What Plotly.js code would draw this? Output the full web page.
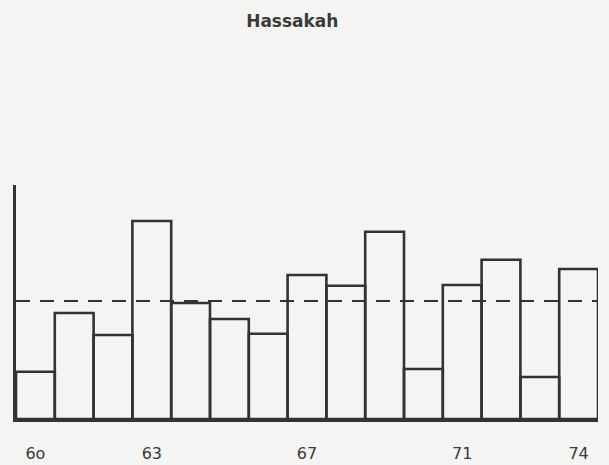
<!DOCTYPE html>
<html>
<head>
<meta charset="utf-8">
<script src="https://cdn.plot.ly/plotly-3.0.1.min.js"></script>
<style>html,body{margin:0;padding:0;background:#f4f4f2;}#chart{width:609px;height:465px;}</style>
</head>
<body>
<div id="chart"></div>
<script>
// Annual rainfall, Hassakah, 1960-1974 (arbitrary mm scale)
var years = [1960,1961,1962,1963,1964,1965,1966,1967,1968,1969,1970,1971,1972,1973,1974];
var rainfall = [118,265,210,495,290,250,213,360,333,468,125,335,398,105,375];
var meanRainfall = 295;
var tickYears = [1960,1963,1967,1971,1974];
var tickLabels = ['6o','63','67','71','74'];

var ink = '#333333';
var trace = {
  type: 'bar',
  x: years,
  y: rainfall,
  marker: {color: 'rgba(0,0,0,0)', line: {color: ink, width: 2.6}},
  hoverinfo: 'x+y'
};
var layout = {
  width: 609, height: 465,
  margin: {l: 16, r: 11, t: 185, b: 46},
  paper_bgcolor: '#f4f4f2',
  plot_bgcolor: '#f4f4f2',
  bargap: 0,
  showlegend: false,
  title: {text: 'Hassakah', x: 0.48, xanchor: 'center', y: 0.955, yanchor: 'middle',
          font: {family: 'DejaVu Sans', size: 17, color: '#3a3a3a', weight: 600}},
  xaxis: {
    range: [1959.5, 1974.5], showgrid: false, zeroline: false,
    showline: true, linecolor: ink, linewidth: 2.6,
    tickvals: tickYears, ticktext: tickLabels, ticks: '',
    ticklabelstandoff: 18,
    tickfont: {family: 'DejaVu Sans', size: 16, color: '#3a3a3a'}
  },
  yaxis: {
    range: [0, 585], showgrid: false, zeroline: false,
    showline: true, linecolor: ink, linewidth: 2.6,
    showticklabels: false, ticks: ''
  },
  shapes: [{
    type: 'line', xref: 'paper', x0: 0, x1: 1, yref: 'y', y0: meanRainfall, y1: meanRainfall,
    line: {color: ink, width: 2.2, dash: '14px,10px'}, layer: 'above'
  }]
};
Plotly.newPlot('chart', [trace], layout, {displayModeBar: false, staticPlot: true});
</script>
</body>
</html>
